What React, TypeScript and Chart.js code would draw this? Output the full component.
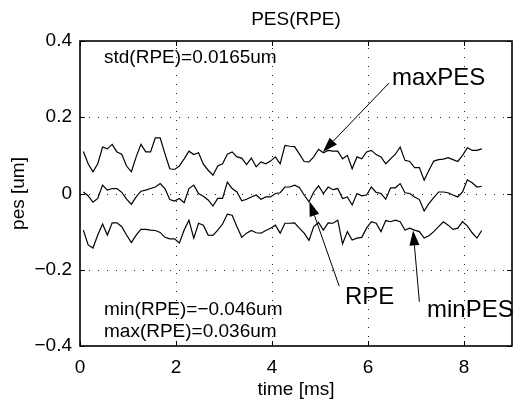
import { useEffect, useRef } from "react";
import { Chart, registerables } from "chart.js";

Chart.register(...registerables);

const times = [
  0.07, 0.17, 0.27, 0.37, 0.47, 0.57, 0.67, 0.77, 0.87, 0.97,
  1.07, 1.17, 1.27, 1.37, 1.47, 1.57, 1.67, 1.77, 1.87, 1.97,
  2.07, 2.17, 2.27, 2.37, 2.47, 2.57, 2.67, 2.77, 2.87, 2.97,
  3.07, 3.17, 3.27, 3.37, 3.47, 3.57, 3.67, 3.77, 3.87, 3.97,
  4.07, 4.17, 4.27, 4.37, 4.47, 4.57, 4.67, 4.77, 4.87, 4.97,
  5.07, 5.17, 5.27, 5.37, 5.47, 5.57, 5.67, 5.77, 5.87, 5.97,
  6.07, 6.17, 6.27, 6.37, 6.47, 6.57, 6.67, 6.77, 6.87, 6.97,
  7.07, 7.17, 7.27, 7.37, 7.47, 7.57, 7.67, 7.77, 7.87, 7.97,
  8.07, 8.17, 8.27, 8.37,
];

const maxPES = [
  0.110, 0.078, 0.057, 0.078, 0.122, 0.117, 0.129, 0.109, 0.103, 0.072,
  0.057, 0.096, 0.129, 0.109, 0.109, 0.146, 0.146, 0.104, 0.065, 0.063,
  0.072, 0.091, 0.111, 0.102, 0.107, 0.077, 0.061, 0.048, 0.072, 0.078,
  0.103, 0.109, 0.096, 0.093, 0.076, 0.093, 0.070, 0.083, 0.078, 0.085,
  0.096, 0.078, 0.126, 0.124, 0.123, 0.104, 0.084, 0.083, 0.096, 0.116,
  0.107, 0.113, 0.111, 0.111, 0.091, 0.100, 0.065, 0.096, 0.091, 0.109,
  0.113, 0.102, 0.096, 0.078, 0.091, 0.103, 0.122, 0.087, 0.084, 0.068,
  0.068, 0.035, 0.061, 0.085, 0.089, 0.090, 0.094, 0.089, 0.084, 0.100,
  0.120, 0.113, 0.113, 0.117,
];

const rpe = [
  0.004, -0.006, -0.023, -0.013, 0.022, 0.009, 0.013, 0.013, 0.003, -0.015,
  -0.028, -0.009, 0.006, 0.009, 0.013, 0.017, 0.026, 0.013, -0.016, -0.020,
  -0.013, -0.024, 0.013, 0.022, 0.000, -0.007, -0.017, -0.033, -0.013, -0.013,
  0.030, 0.013, 0.004, -0.019, -0.015, -0.009, -0.004, -0.015, -0.009, -0.009,
  0.000, 0.002, 0.017, 0.017, 0.022, 0.016, -0.004, -0.022, 0.004, 0.020,
  0.000, 0.017, 0.010, 0.013, -0.013, -0.009, -0.030, 0.000, -0.006, -0.004,
  0.017, 0.003, 0.000, -0.015, 0.015, 0.015, 0.026, 0.002, 0.000, -0.009,
  -0.016, -0.046, -0.026, -0.011, 0.004, 0.004, 0.002, -0.004, -0.009, 0.004,
  0.036, 0.028, 0.017, 0.019,
];

const minPES = [
  -0.096, -0.135, -0.143, -0.109, -0.080, -0.109, -0.077, -0.077, -0.087, -0.109,
  -0.129, -0.109, -0.094, -0.094, -0.096, -0.097, -0.102, -0.115, -0.119, -0.119,
  -0.130, -0.096, -0.070, -0.117, -0.078, -0.083, -0.109, -0.110, -0.096, -0.080,
  -0.054, -0.057, -0.087, -0.115, -0.104, -0.097, -0.103, -0.104, -0.097, -0.091,
  -0.083, -0.104, -0.078, -0.078, -0.077, -0.091, -0.104, -0.123, -0.087, -0.076,
  -0.096, -0.077, -0.078, -0.070, -0.132, -0.100, -0.122, -0.117, -0.115, -0.091,
  -0.074, -0.078, -0.100, -0.071, -0.074, -0.070, -0.074, -0.096, -0.091, -0.096,
  -0.100, -0.117, -0.111, -0.100, -0.087, -0.074, -0.083, -0.094, -0.091, -0.074,
  -0.085, -0.103, -0.117, -0.097,
];

const xTicks = [0, 2, 4, 6, 8];
const yTicks = [-0.4, -0.2, 0, 0.2, 0.4];
const xRange = [0, 9];
const yRange = [-0.4, 0.4];

const titleText = "PES(RPE)";
const xLabel = "time [ms]";
const yLabel = "pes [um]";
const stdText = "std(RPE)=0.0165um";
const minText = "min(RPE)=\u22120.046um";
const maxText = "max(RPE)=0.036um";
const arrowNames = ["maxPES", "RPE", "minPES"];

const FONT = "'Liberation Sans', Arial, Helvetica, sans-serif";

const fmtY = (v: number) => {
  if (Math.abs(v) < 1e-9) return "0";
  const s = Math.abs(v).toFixed(1);
  return (v < 0 ? "\u2212" : "") + s;
};

function drawArrow(ctx: CanvasRenderingContext2D, x0: number, y0: number, x1: number, y1: number) {
  const dx = x1 - x0;
  const dy = y1 - y0;
  const len = Math.hypot(dx, dy);
  const ux = dx / len;
  const uy = dy / len;
  const headL = 15;
  const headW = 5;
  const bx = x1 - ux * headL;
  const by = y1 - uy * headL;
  ctx.save();
  ctx.strokeStyle = "#000";
  ctx.fillStyle = "#000";
  ctx.lineWidth = 1;
  ctx.beginPath();
  ctx.moveTo(x0, y0);
  ctx.lineTo(bx, by);
  ctx.stroke();
  ctx.beginPath();
  ctx.moveTo(x1, y1);
  ctx.lineTo(bx - uy * headW, by + ux * headW);
  ctx.lineTo(bx + uy * headW, by - ux * headW);
  ctx.closePath();
  ctx.fill();
  ctx.restore();
}

const overlay = {
  id: "overlay",
  beforeDatasetsDraw(chart: any) {
    const { ctx, chartArea: a, scales } = chart;
    const xs = scales.x;
    const ys = scales.y;
    ctx.save();
    ctx.strokeStyle = "#222";
    ctx.lineWidth = 1;
    ctx.setLineDash([1, 8]);
    xTicks.forEach((t) => {
      const px = Math.round(xs.getPixelForValue(t)) + 0.5;
      if (px <= a.left + 2 || px >= a.right - 2) return;
      ctx.beginPath();
      ctx.moveTo(px, a.bottom);
      ctx.lineTo(px, a.top);
      ctx.stroke();
    });
    yTicks.forEach((t) => {
      const py = Math.round(ys.getPixelForValue(t)) + 0.5;
      if (py <= a.top + 2 || py >= a.bottom - 2) return;
      ctx.beginPath();
      ctx.moveTo(a.left, py);
      ctx.lineTo(a.right, py);
      ctx.stroke();
    });
    ctx.restore();
  },
  afterDraw(chart: any) {
    const { ctx, chartArea: a, scales } = chart;
    const xs = scales.x;
    const ys = scales.y;
    const X = (v: number) => xs.getPixelForValue(v);
    const Y = (v: number) => ys.getPixelForValue(v);
    ctx.save();
    // box
    ctx.strokeStyle = "#000";
    ctx.lineWidth = 1.6;
    ctx.strokeRect(a.left, a.top, a.right - a.left, a.bottom - a.top);
    // inward ticks
    ctx.lineWidth = 1;
    const tl = 5;
    xTicks.forEach((t) => {
      const px = Math.round(X(t)) + 0.5;
      ctx.beginPath();
      ctx.moveTo(px, a.bottom);
      ctx.lineTo(px, a.bottom - tl);
      ctx.moveTo(px, a.top);
      ctx.lineTo(px, a.top + tl);
      ctx.stroke();
    });
    yTicks.forEach((t) => {
      const py = Math.round(Y(t)) + 0.5;
      ctx.beginPath();
      ctx.moveTo(a.left, py);
      ctx.lineTo(a.left + tl, py);
      ctx.moveTo(a.right, py);
      ctx.lineTo(a.right - tl, py);
      ctx.stroke();
    });

    ctx.fillStyle = "#000";
    ctx.textBaseline = "alphabetic";
    // title
    ctx.font = `19px ${FONT}`;
    ctx.textAlign = "center";
    const cx = (a.left + a.right) / 2;
    ctx.fillText(titleText, cx, 25);
    ctx.fillText(xLabel, cx, 395);
    // y label
    ctx.save();
    ctx.translate(24, (a.top + a.bottom) / 2);
    ctx.rotate(-Math.PI / 2);
    ctx.fillText(yLabel, 0, 0);
    ctx.restore();

    // stats text
    ctx.textAlign = "left";
    ctx.fillText(stdText, X(0.5), Y(0.343));
    ctx.fillText(minText, X(0.5), Y(-0.319));
    ctx.fillText(maxText, X(0.5), Y(-0.376));

    // arrow labels
    ctx.font = `24px ${FONT}`;
    ctx.fillText(arrowNames[0], X(6.5), Y(0.285));
    ctx.fillText(arrowNames[1], X(5.52), Y(-0.29));
    ctx.fillText(arrowNames[2], X(7.23), Y(-0.324));

    drawArrow(ctx, X(6.44), Y(0.29), X(5.06), Y(0.109));
    drawArrow(ctx, X(5.4), Y(-0.243), X(4.78), Y(-0.02));
    drawArrow(ctx, X(7.07), Y(-0.284), X(6.94), Y(-0.097));
    ctx.restore();
  },
};

export default function App() {
  const ref = useRef<HTMLCanvasElement | null>(null);
  useEffect(() => {
    if (!ref.current) return;
    const mk = (d: number[]) => d.map((v, i) => ({ x: times[i], y: v }));
    const lineStyle = {
      borderColor: "#000",
      borderWidth: 1.2,
      pointRadius: 0,
      fill: false,
      tension: 0,
    };
    const chart = new Chart(ref.current, {
      type: "line",
      data: {
        datasets: [
          { label: "maxPES", data: mk(maxPES), ...lineStyle },
          { label: "RPE", data: mk(rpe), ...lineStyle },
          { label: "minPES", data: mk(minPES), ...lineStyle },
        ],
      },
      options: {
        animation: false,
        responsive: false,
        devicePixelRatio: 1,
        layout: { padding: { top: 41, right: 3, left: 0, bottom: 0 } },
        plugins: {
          legend: { display: false },
          title: { display: false },
          tooltip: { enabled: false },
        },
        scales: {
          x: {
            type: "linear",
            min: xRange[0],
            max: xRange[1],
            grid: { display: false, drawTicks: false },
            border: { display: false },
            afterFit: (s: any) => {
              s.height = 58;
            },
            afterBuildTicks: (s: any) => {
              s.ticks = xTicks.map((v) => ({ value: v }));
            },
            ticks: {
              color: "#000",
              padding: 10,
              maxRotation: 0,
              font: { family: FONT, size: 19 },
              callback: (v: any) => String(v),
            },
          },
          y: {
            type: "linear",
            min: yRange[0],
            max: yRange[1],
            grid: { display: false, drawTicks: false },
            border: { display: false },
            afterFit: (s: any) => {
              s.width = 80;
            },
            afterBuildTicks: (s: any) => {
              s.ticks = yTicks.map((v) => ({ value: v }));
            },
            ticks: {
              color: "#000",
              padding: 8,
              font: { family: FONT, size: 19 },
              callback: (v: any) => fmtY(Number(v)),
            },
          },
        },
      },
      plugins: [overlay],
    });
    return () => chart.destroy();
  }, []);
  return (
    <div style={{ position: "absolute", left: 0, top: 0, width: 515, height: 404, background: "#fff" }}>
      <canvas ref={ref} width={515} height={404} />
    </div>
  );
}
